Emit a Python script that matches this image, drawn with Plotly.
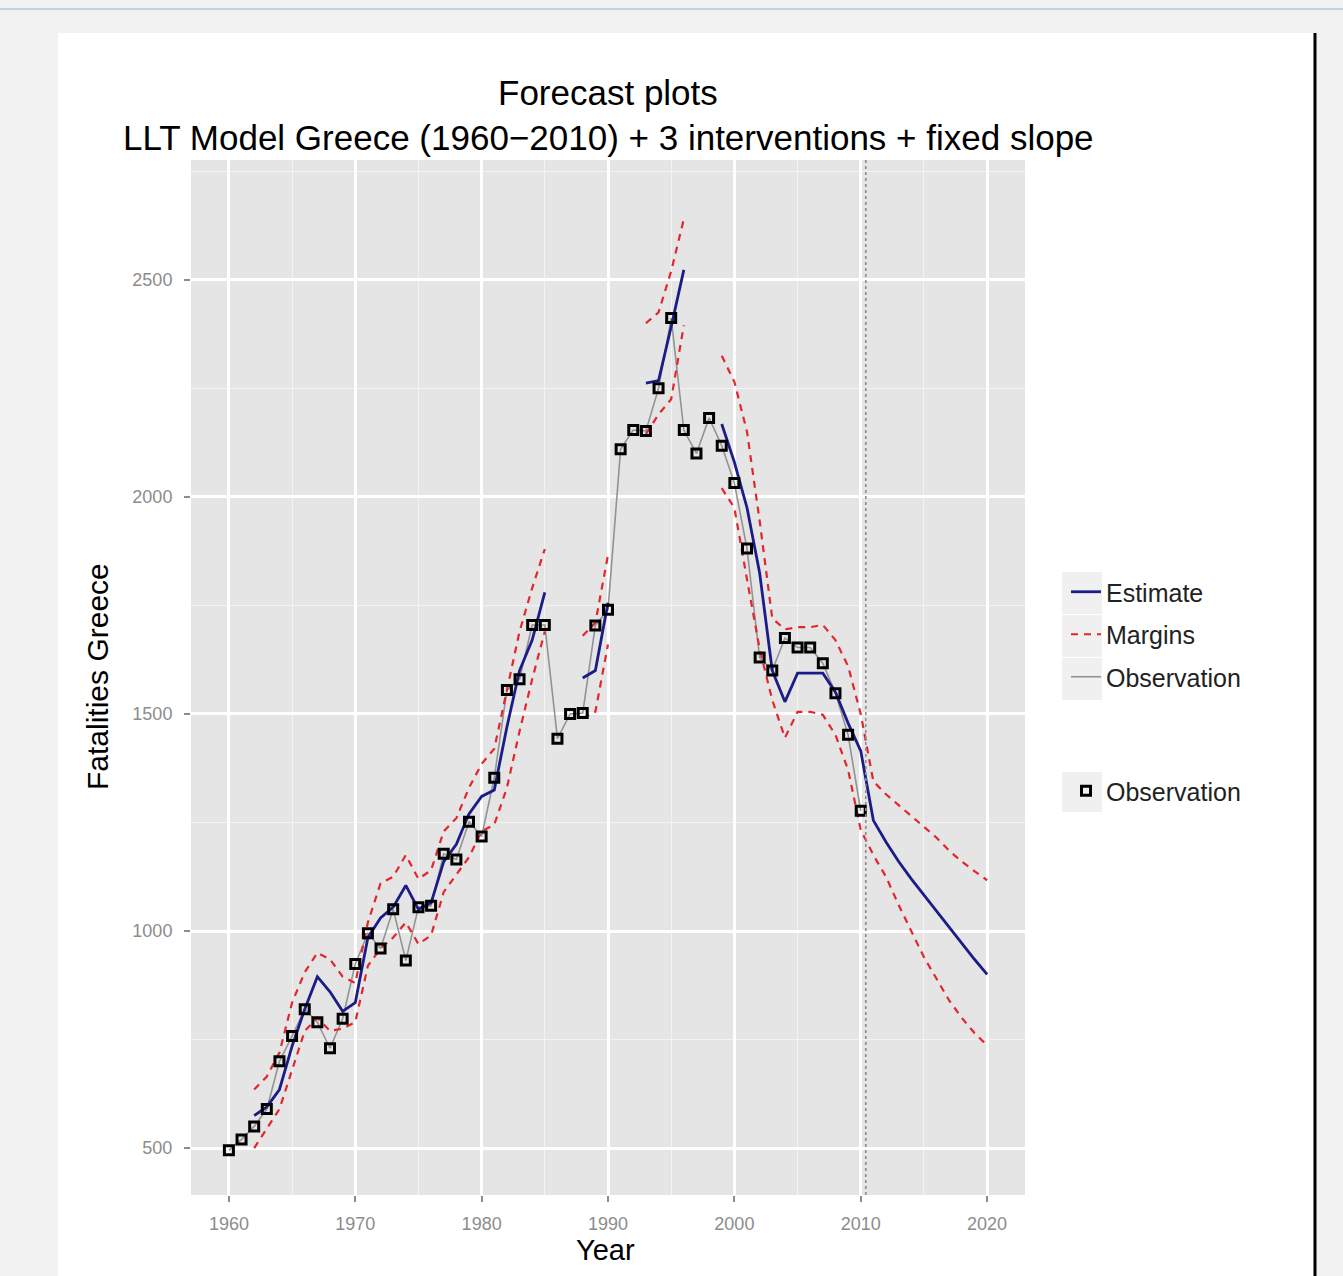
import plotly.graph_objects as go

# ---------------- data ----------------
obs_years = list(range(1960, 2011))
observations = [495, 520, 550, 590, 700, 758, 820, 790, 730, 798,
                924, 995, 960, 1050, 932, 1055, 1058, 1178, 1165, 1252,
                1218, 1353, 1555, 1580, 1705, 1705, 1443, 1500, 1502, 1704,
                1740, 2110, 2154, 2152, 2250, 2412, 2154, 2100, 2182, 2118,
                2032, 1881, 1630, 1600, 1675, 1653, 1653, 1617, 1548, 1452,
                1277]

years = list(range(1960, 2021))
estimate = [None, None, 575, 595, 635, 735, 820, 895, 860, 815,
            835, 985, 1030, 1055, 1105, 1050, 1065, 1160, 1200, 1270,
            1310, 1325, 1470, 1600, 1670, 1780, None, None, 1583, 1600,
            1756, None, None, 2262, 2268, 2392, 2523, None, None, 2168,
            2080, 1975, 1825, 1600, 1528, 1594, 1594, 1594, 1550, 1479,
            1415, 1255, 1205, 1160, 1120, 1083, 1045, 1008, 970, 935,
            900]
upper = [None, None, 635, 665, 720, 835, 905, 950, 935, 895,
         880, 1020, 1110, 1125, 1175, 1120, 1140, 1230, 1260, 1330,
         1385, 1420, 1555, 1690, 1790, 1880, None, None, 1680, 1710,
         1866, None, None, 2400, 2425, 2520, 2640, None, None, 2325,
         2265, 2150, 1945, 1720, 1695, 1700, 1700, 1705, 1670, 1610,
         1500, 1345, 1315, 1290, 1265, 1240, 1215, 1185, 1160, 1138,
         1117]
lower = [None, None, 500, 545, 590, 680, 770, 800, 770, 775,
         790, 920, 960, 985, 1020, 970, 990, 1090, 1130, 1170,
         1230, 1245, 1330, 1460, 1580, 1690, None, None, 1490, 1505,
         1660, None, None, 2145, 2190, 2225, 2395, None, None, 2020,
         1975, 1810, 1650, 1532, 1445, 1505, 1505, 1498, 1452, 1371,
         1233, 1175, 1125, 1060, 1000, 940, 890, 840, 800, 765,
         737]
forecast_start = 2010.4

title_1 = "Forecast plots"
title_2 = "LLT Model Greece (1960\u22122010) + 3 interventions + fixed slope"
x_label = "Year"
y_label = "Fatalities Greece"

# ---------------- figure ----------------
W, H = 1343, 1276
L, R, T, B = 191, 1025, 160, 1195


def px(xp):
    return (xp - L) / (R - L)


def py(yp):
    return (B - yp) / (B - T)


FONT = "Liberation Sans, Arial, sans-serif"
fig = go.Figure()

fig.add_trace(go.Scatter(x=obs_years, y=observations, mode="lines",
                         line=dict(color="#939393", width=1.6),
                         name="Observation", legendgroup="g3", legendrank=3))
fig.add_trace(go.Scatter(x=years, y=estimate, mode="lines",
                         line=dict(color="#1c1c88", width=2.8),
                         name="Estimate", legendgroup="g1", legendrank=1))
fig.add_trace(go.Scatter(x=years, y=upper, mode="lines",
                         line=dict(color="#e3262b", width=2.2, dash="7px,6px"),
                         name="Margins", legendgroup="g2", legendrank=2))
fig.add_trace(go.Scatter(x=years, y=lower, mode="lines",
                         line=dict(color="#e3262b", width=2.2, dash="7px,6px"),
                         name="Margins", legendgroup="g2", showlegend=False))
fig.add_trace(go.Scatter(x=obs_years, y=observations, mode="markers",
                         marker=dict(symbol="square-open", size=9, color="black",
                                     line=dict(width=3, color="black")),
                         name="Observation", legend="legend2"))

shapes = [
    # page decorations
    dict(type="line", xref="paper", yref="paper", x0=px(0), x1=px(W), y0=py(9), y1=py(9),
         line=dict(color="#bcd5e6", width=2), layer="below"),
    dict(type="rect", xref="paper", yref="paper", x0=px(58), x1=px(1313), y0=py(33), y1=py(H + 5),
         fillcolor="white", line=dict(width=0), layer="below"),
    dict(type="line", xref="paper", yref="paper", x0=px(1315), x1=px(1315), y0=py(33), y1=py(H + 5),
         line=dict(color="black", width=3), layer="below"),
    # panel background
    dict(type="rect", xref="paper", yref="paper", x0=0, x1=1, y0=0, y1=1,
         fillcolor="#e5e5e5", line=dict(width=0), layer="below"),
    # forecast start
    dict(type="line", xref="x", yref="paper", x0=forecast_start, x1=forecast_start, y0=0, y1=1,
         line=dict(color="#8c8c8c", width=1.6, dash="dot")),
]
# legend key backgrounds
for (y0, y1) in [(572, 614), (615, 657), (658, 700), (772, 812)]:
    shapes.append(dict(type="rect", xref="paper", yref="paper", x0=px(1062), x1=px(1102),
                       y0=py(y1), y1=py(y0), fillcolor="#f0f0f0", line=dict(width=0), layer="below"))

annotations = [
    dict(text=title_1, x=0.5, y=py(92), xref="paper", yref="paper", showarrow=False,
         font=dict(size=35, color="black", family=FONT), xanchor="center", yanchor="middle"),
    dict(text=title_2, x=0.5, y=py(137), xref="paper", yref="paper", showarrow=False,
         font=dict(size=35, color="black", family=FONT), xanchor="center", yanchor="middle"),
    dict(text=x_label, x=px(605), y=py(1250), xref="paper", yref="paper", showarrow=False,
         font=dict(size=29, color="black", family=FONT), xanchor="center", yanchor="middle"),
    dict(text=y_label, x=px(97), y=py(677), xref="paper", yref="paper", showarrow=False,
         textangle=-90, font=dict(size=30, color="black", family=FONT),
         xanchor="center", yanchor="middle"),
]

fig.update_layout(
    width=W, height=H,
    margin=dict(l=L, r=W - R, t=T, b=H - B, pad=0),
    paper_bgcolor="#f2f2f2",
    plot_bgcolor="rgba(0,0,0,0)",
    font=dict(family=FONT, color="black"),
    shapes=shapes,
    annotations=annotations,
    showlegend=True,
    legend=dict(x=px(1066), y=py(569), xanchor="left", yanchor="top",
                bgcolor="rgba(0,0,0,0)", traceorder="grouped", tracegroupgap=7,
                font=dict(size=25, color="#222222", family=FONT),
                itemwidth=30),
    legend2=dict(x=px(1066), y=py(768), xanchor="left", yanchor="top",
                 bgcolor="rgba(0,0,0,0)",
                 font=dict(size=25, color="#222222", family=FONT),
                 itemwidth=30),
)
fig.update_xaxes(range=[1957, 2023], tick0=1960, dtick=10, showgrid=True,
                 gridcolor="white", gridwidth=2.5, zeroline=False,
                 ticks="outside", ticklen=6, tickwidth=2, tickcolor="#8c8c8c",
                 ticklabelstandoff=6,
                 tickfont=dict(size=18, color="#8c8c8c", family=FONT),
                 minor=dict(dtick=5, showgrid=True, gridcolor="#f3f3f3", gridwidth=1),
                 showline=False)
fig.update_yaxes(range=[392, 2776], tick0=500, dtick=500, showgrid=True,
                 gridcolor="white", gridwidth=2.5, zeroline=False,
                 ticks="outside", ticklen=6, tickwidth=2, tickcolor="#8c8c8c",
                 ticklabelstandoff=8,
                 tickfont=dict(size=18, color="#8c8c8c", family=FONT),
                 minor=dict(dtick=250, showgrid=True, gridcolor="#f3f3f3", gridwidth=1),
                 showline=False)

fig.write_html("out.html")
